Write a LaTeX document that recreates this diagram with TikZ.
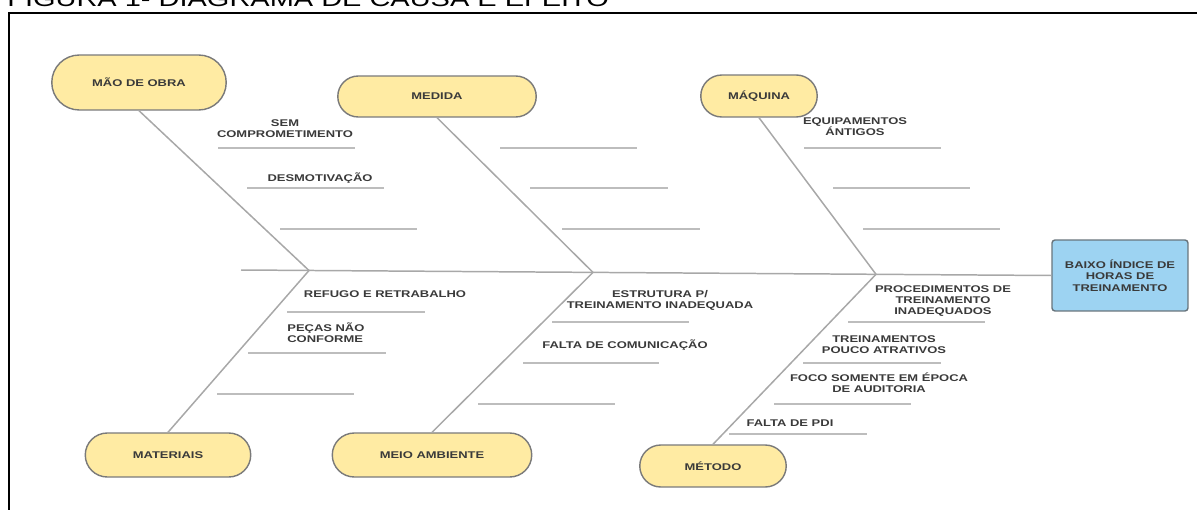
\documentclass[tikz,border=0pt]{standalone}
\usepackage{fontspec}
\setmainfont{Liberation Sans}
\newfontfamily\lblfont[FakeStretch=1.33]{Liberation Sans}
\usepackage{xcolor}
\usetikzlibrary{shapes.misc}

\definecolor{causefill}{HTML}{FFEBA3}
\definecolor{causeline}{HTML}{7A7A7A}
\definecolor{effectfill}{HTML}{9DD3F2}
\definecolor{effectline}{HTML}{68747C}
\definecolor{boneline}{HTML}{A8A8A8}
\definecolor{subgray}{HTML}{BDBDBD}
\definecolor{txt}{HTML}{3A3A3A}

\tikzset{
  cause/.style={rounded rectangle, draw=causeline, fill=causefill, line width=0.8pt,
    inner sep=1pt, font=\lblfont\fontsize{5.55}{6.24}\selectfont\bfseries, text=txt},
  effect/.style={rectangle, rounded corners=0.6mm, draw=effectline, fill=effectfill,
    line width=0.8pt, minimum width=2.72cm, minimum height=1.42cm, align=center,
    font=\lblfont\fontsize{5.55}{6.5}\selectfont\bfseries, text=txt},
  bone/.style={draw=boneline, line width=0.85pt},
  subline/.style={draw=subgray, line width=0.85pt},
  lbl/.style={inner sep=0pt, align=center, font=\lblfont\fontsize{5.55}{6.24}\selectfont\bfseries, text=txt}
}

\begin{document}
\begin{tikzpicture}[x=0.02cm,y=-0.02cm]
\useasboundingbox (0,0) rectangle (1197,510);

	% title and frame
	\node[anchor=base west, inner sep=0pt, font=\lblfont\fontsize{12.4}{14}\selectfont] (titulo) at (7,7) {FIGURA 1- DIAGRAMA DE CAUSA E EFEITO};
	\draw[line width=1.3pt] (9,13) rectangle (1240,545);

	% causes
	\node[cause, minimum width=3.56cm, minimum height=1.1cm] (mao) at (139,82.5) {MÃO DE OBRA};
	\node[cause, minimum width=4.04cm, minimum height=0.82cm] (medida) at (437,96.5) {MEDIDA};
	\node[cause, minimum width=2.4cm, minimum height=0.84cm] (maquina) at (759,96) {MÁQUINA};
	\node[cause, minimum width=3.38cm, minimum height=0.88cm] (materiais) at (168,455) {MATERIAIS};
	\node[cause, minimum width=4.06cm, minimum height=0.88cm] (meio) at (432,455) {MEIO AMBIENTE};
	\node[cause, minimum width=3.0cm, minimum height=0.84cm] (metodo) at (713,466) {MÉTODO};

	% effect
	\node[effect] (efeito) at (1120,275.5) {BAIXO ÍNDICE DE\\HORAS DE\\TREINAMENTO};

	% spine
	\coordinate (cauda) at (241,270);
	\coordinate (v1) at (309,270.5);
	\coordinate (v2) at (593,272.4);
	\coordinate (v3) at (876,274.3);
	\draw[bone] (cauda) -- (efeito.west);
	\draw[bone] (mao.south) -- (v1) -- (materiais.north);
	\draw[bone] (medida.south) -- (v2) -- (meio.north);
	\draw[bone] (maquina.south) -- (v3) -- (metodo.north);

	% mao de obra
	\draw[subline] (218,148) -- (355,148);
	\draw[subline] (247,188) -- (384,188);
	\draw[subline] (280,229) -- (417,229);
	\node[lbl] (semcomp) at (285,128.5) {SEM\\COMPROMETIMENTO};
	\node[lbl] (desmot) at (320,178) {DESMOTIVAÇÃO};

	% medida
	\draw[subline] (500,148) -- (637,148);
	\draw[subline] (530,188) -- (668,188);
	\draw[subline] (562,229) -- (700,229);

	% maquina
	\draw[subline] (804,148) -- (941,148);
	\draw[subline] (833,188) -- (970,188);
	\draw[subline] (863,229) -- (1000,229);
	\node[lbl] (equip) at (855,126.5) {EQUIPAMENTOS\\ÁNTIGOS};

	% materiais
	\draw[subline] (287,312) -- (425,312);
	\draw[subline] (248,353) -- (386,353);
	\draw[subline] (217,394) -- (354,394);
	\node[lbl] (refugo) at (385,294) {REFUGO E RETRABALHO};
	\node[lbl, align=left, anchor=west] (pecas) at (287,332.5) {PEÇAS NÃO\\CONFORME};

	% meio ambiente
	\draw[subline] (552,322) -- (689,322);
	\draw[subline] (523,363) -- (659,363);
	\draw[subline] (478,404) -- (615,404);
	\node[lbl] (estrut) at (660,300.5) {ESTRUTURA P/\\TREINAMENTO INADEQUADA};
	\node[lbl] (comunic) at (625,345) {FALTA DE COMUNICAÇÃO};

	% metodo
	\draw[subline] (848,322) -- (985,322);
	\draw[subline] (803,363) -- (941,363);
	\draw[subline] (774,404) -- (911,404);
	\draw[subline] (729,434) -- (867,434);
	\node[lbl] (proced) at (943,301) {PROCEDIMENTOS DE\\TREINAMENTO\\INADEQUADOS};
	\node[lbl] (atrat) at (884,344.5) {TREINAMENTOS\\POUCO ATRATIVOS};
	\node[lbl] (foco) at (879,383) {FOCO SOMENTE EM ÉPOCA\\DE AUDITORIA};
	\node[lbl] (pdi) at (790,423) {FALTA DE PDI};

\end{tikzpicture}
\end{document}
